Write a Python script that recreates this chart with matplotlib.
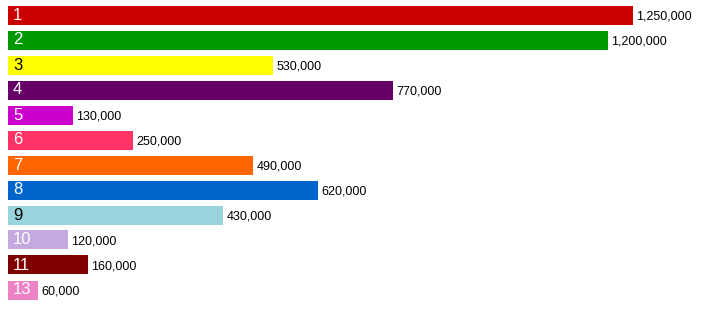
import matplotlib
matplotlib.use("Agg")
import matplotlib.pyplot as plt
import numpy as np

plt.rcParams['font.family'] = ['Liberation Sans', 'DejaVu Sans']

categories = ["1", "2", "3", "4", "5", "6", "7", "8", "9", "10", "11", "13"]
values = [1250000, 1200000, 530000, 770000, 130000, 250000,
          490000, 620000, 430000, 120000, 160000, 60000]
colors = ["#CC0000", "#009900", "#FFFF00", "#660066", "#CC00CC", "#FF3366",
          "#FF6600", "#0066CC", "#99D3DB", "#C3A9E0", "#800000", "#EE82C6"]
label_colors = ["white", "white", "black", "white", "white", "white",
                "white", "white", "black", "white", "white", "white"]

W, H = 705, 316
fig = plt.figure(figsize=(W / 100, H / 100), dpi=100)
ax = fig.add_axes([8 / W, 0, (W - 8) / W, 1])
ax.set_xlim(0, (W - 8) / 0.0005)
ax.set_ylim((H - 15) / 25, -15 / 25)

y = np.arange(len(categories))
ax.barh(y, values, height=0.76, color=colors, left=0)

# offsets in data units (px / 0.0005)
px = 1 / 0.0005
for i, (cat, v) in enumerate(zip(categories, values)):
    ax.text(5 * px, i, cat, color=label_colors[i], fontsize=12,
            va='center', ha='left')
    ax.text(v + 3.5 * px, i + 0.05, f"{v:,}", color='black', fontsize=9,
            va='center', ha='left')

ax.axis('off')
fig.savefig("out.png", dpi=100)
